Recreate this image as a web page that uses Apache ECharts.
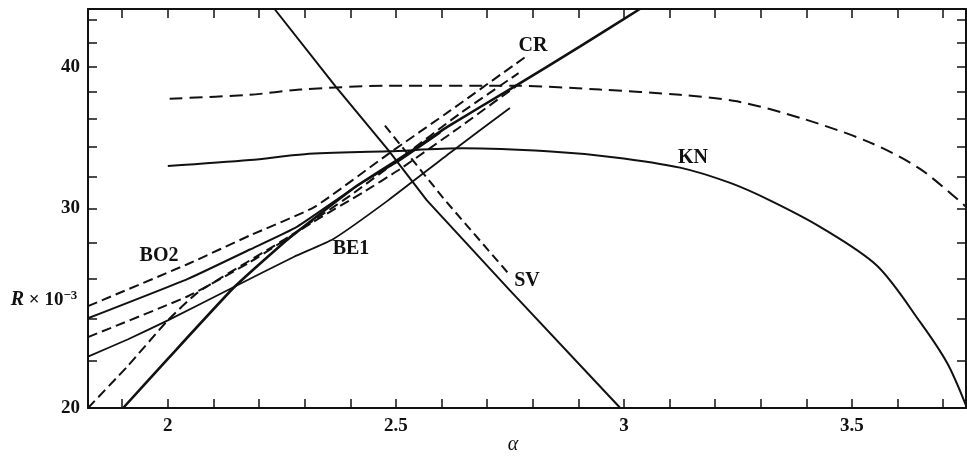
<!DOCTYPE html>
<html>
<head>
<meta charset="utf-8">
<script src="https://cdn.jsdelivr.net/npm/echarts@6/dist/echarts.min.js"></script>
<style>
html,body{margin:0;padding:0;background:#fff;}
#c{width:967px;height:460px;}
</style>
</head>
<body>
<div id="c"></div>
<script>
// ---- axis ticks / labels ----
const xTicks = [1.9, 2.0, 2.1, 2.2, 2.3, 2.4, 2.5, 2.6, 2.7, 2.8, 2.9, 3.0, 3.1, 3.2, 3.3, 3.4, 3.5, 3.6, 3.7];
const xLabels = [2, 2.5, 3, 3.5];
const yTicks = [20, 22, 24, 26, 28, 30, 32, 34, 36, 38, 40, 42, 44];
const yLabels = [20, 30, 40];

// ---- curves (alpha, R x 10^-3) ----
const knDashX = [2.004, 2.18, 2.29, 2.483, 2.764, 2.948, 3.123, 3.248, 3.393, 3.540, 3.650, 3.750];
const knDashR = [37.5, 37.8, 38.2, 38.5, 38.5, 38.2, 37.8, 37.3, 36.0, 34.3, 32.5, 30.1];

const knX = [2.000, 2.180, 2.300, 2.483, 2.647, 2.832, 2.976, 3.123, 3.233, 3.320, 3.430, 3.555, 3.650, 3.709, 3.750];
const knR = [32.7, 33.1, 33.5, 33.7, 33.9, 33.7, 33.3, 32.6, 31.6, 30.5, 28.9, 26.7, 23.8, 21.9, 20.1];

const svX = [2.234, 2.369, 2.483, 2.568, 2.750, 2.992];
const svR = [45.0, 38.4, 33.8, 30.5, 25.4, 20.0];

const svDashX = [2.476, 2.608, 2.750];
const svDashR = [35.5, 30.5, 26.2];

const crX = [1.902, 2.000, 2.147, 2.264, 2.414, 2.538, 2.612, 2.758, 2.904, 3.035];
const crR = [20.0, 22.1, 25.6, 28.2, 31.4, 33.8, 35.4, 38.4, 41.7, 45.0];

const crDashX = [1.825, 1.913, 2.000, 2.066, 2.264, 2.400, 2.509, 2.641, 2.769];
const crDashR = [20.0, 21.8, 23.9, 25.3, 28.3, 30.8, 33.2, 36.4, 39.5];

const bo2DashX = [1.825, 2.044, 2.180, 2.322, 2.487, 2.619, 2.783];
const bo2DashR = [24.6, 26.8, 28.4, 30.1, 33.6, 36.6, 40.8];

const bo2X = [1.825, 2.044, 2.180, 2.283, 2.414, 2.509, 2.597];
const bo2R = [24.0, 26.0, 27.6, 28.9, 31.4, 33.1, 35.0];

const lowDashX = [1.825, 2.044, 2.180, 2.319, 2.428, 2.509, 2.636, 2.765];
const lowDashR = [23.1, 25.1, 26.9, 29.2, 31.0, 32.5, 35.3, 38.5];

const be1X = [1.825, 1.913, 2.000, 2.147, 2.277, 2.363, 2.483, 2.619, 2.750];
const be1R = [22.2, 23.0, 23.9, 25.6, 27.2, 28.2, 30.5, 33.6, 36.8];

const zip = (xs, ys) => xs.map((x, i) => [x, ys[i]]);

const FONT = '"Liberation Serif", "DejaVu Serif", serif';

function line(name, xs, ys, opts) {
  opts = opts || {};
  return {
    name: name,
    type: 'line',
    data: zip(xs, ys),
    showSymbol: false,
    symbol: 'none',
    smooth: opts.smooth !== undefined ? opts.smooth : 0.15,
    clip: true,
    silent: true,
    lineStyle: {
      color: '#111',
      width: opts.width || 2,
      type: opts.dash || 'solid'
    }
  };
}

const tickCommon = (vals) => ({
  show: true, inside: true, length: 9, customValues: vals,
  lineStyle: { color: '#111', width: 1.5 }
});

const chart = echarts.init(document.getElementById('c'), null, { renderer: 'canvas' });
chart.setOption({
  animation: false,
  backgroundColor: '#fff',
  grid: { left: 88, right: 1, top: 9, bottom: 52, containLabel: false },
  xAxis: [
    {
      type: 'value', min: 1.825, max: 3.75, position: 'bottom',
      axisLine: { show: true, onZero: false, lineStyle: { color: '#111', width: 2 } },
      axisTick: tickCommon(xTicks),
      axisLabel: {
        show: true, customValues: xLabels, margin: 9,
        color: '#111', fontFamily: FONT, fontSize: 19, fontWeight: 'bold'
      },
      splitLine: { show: false }
    },
    {
      type: 'value', min: 1.825, max: 3.75, position: 'top',
      axisLine: { show: true, onZero: false, lineStyle: { color: '#111', width: 2 } },
      axisTick: tickCommon(xTicks),
      axisLabel: { show: false },
      splitLine: { show: false }
    }
  ],
  yAxis: [
    {
      type: 'log', logBase: 10, min: 20, max: 45, position: 'left',
      axisLine: { show: true, onZero: false, lineStyle: { color: '#111', width: 2 } },
      axisTick: tickCommon(yTicks),
      axisLabel: {
        show: true, customValues: yLabels, margin: 8,
        color: '#111', fontFamily: FONT, fontSize: 19, fontWeight: 'bold'
      },
      splitLine: { show: false },
      minorTick: { show: false }
    },
    {
      type: 'log', logBase: 10, min: 20, max: 45, position: 'right',
      axisLine: { show: true, onZero: false, lineStyle: { color: '#111', width: 2 } },
      axisTick: tickCommon(yTicks),
      axisLabel: { show: false },
      splitLine: { show: false }
    }
  ],
  series: [
    line('KN dashed', knDashX, knDashR, { dash: [13, 7], smooth: 0.3 }),
    line('KN', knX, knR, { smooth: 0.3 }),
    line('SV', svX, svR, { smooth: 0 }),
    line('SV dashed', svDashX, svDashR, { dash: [9, 5], smooth: 0 }),
    line('CR', crX, crR, { width: 2.6 }),
    line('CR dashed', crDashX, crDashR, { dash: [10, 5] }),
    line('BO2 dashed', bo2DashX, bo2DashR, { dash: [10, 5] }),
    line('BO2', bo2X, bo2R, {}),
    line('lower dashed', lowDashX, lowDashR, { dash: [10, 5] }),
    line('BE1', be1X, be1R, { width: 1.8 })
  ],
  graphic: [
    { type: 'text', x: 159, y: 256, style: { text: 'BO2', font: 'bold 20px ' + FONT, fill: '#111', align: 'center', verticalAlign: 'middle' } },
    { type: 'text', x: 351, y: 249, style: { text: 'BE1', font: 'bold 20px ' + FONT, fill: '#111', align: 'center', verticalAlign: 'middle' } },
    { type: 'text', x: 533, y: 46, style: { text: 'CR', font: 'bold 20px ' + FONT, fill: '#111', align: 'center', verticalAlign: 'middle' } },
    { type: 'text', x: 527, y: 281, style: { text: 'SV', font: 'bold 20px ' + FONT, fill: '#111', align: 'center', verticalAlign: 'middle' } },
    { type: 'text', x: 693, y: 158, style: { text: 'KN', font: 'bold 20px ' + FONT, fill: '#111', align: 'center', verticalAlign: 'middle' } },
    {
      type: 'text', x: 44, y: 300,
      style: {
        text: '{i|R} × 10{s|−3}',
        font: 'bold 19px ' + FONT, fill: '#111', align: 'center', verticalAlign: 'middle',
        rich: {
          i: { fontFamily: FONT, fontStyle: 'italic', fontWeight: 'bold', fontSize: 20, fill: '#111' },
          s: { fontFamily: FONT, fontWeight: 'bold', fontSize: 13, verticalAlign: 'top', padding: [0, 0, 9, 0], fill: '#111' }
        }
      }
    },
    { type: 'text', x: 513, y: 445, style: { text: 'α', font: 'italic 20px ' + FONT, fill: '#111', align: 'center', verticalAlign: 'middle' } }
  ]
});
</script>
</body>
</html>
